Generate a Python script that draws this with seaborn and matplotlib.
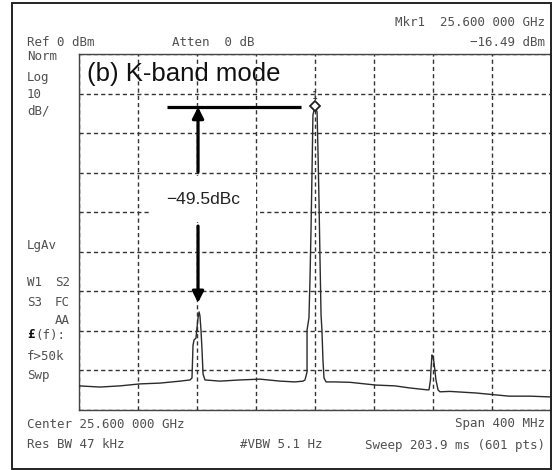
import matplotlib
matplotlib.use("Agg")
import matplotlib.pyplot as plt
import seaborn as sns
import pandas as pd
from matplotlib.patches import Rectangle

# ---- data (offset from 25.600 GHz centre in MHz, level in dBm) ----
freq_offset_mhz = [-160.0, -145.8, -132.2, -118.6, -105.1, -91.5, -84.7, -83.4, -82.7, -82.0,
                   -80.7, -79.3, -78.6, -78.0, -77.3, -76.6, -75.9, -74.6, -64.4, -50.8,
                   -37.3, -23.7, -13.6, -8.1, -6.8, -6.1, -5.4, -5.4, -4.1, -3.4,
                   -2.7, -2.0, -1.4, 0.0, 1.4, 2.0, 2.7, 3.4, 4.1, 4.7,
                   5.4, 6.1, 7.5, 13.6, 23.7, 41.4, 54.2, 63.7, 75.9, 77.3,
                   78.3, 78.6, 79.3, 80.0, 80.7, 82.0, 83.4, 84.7, 91.5, 109.2,
                   131.5, 145.8, 160.0]
level_dbm = [-83.9, -84.2, -83.9, -83.4, -83.2, -82.7, -82.4, -81.9, -73.6, -72.3,
             -71.8, -66.7, -65.2, -66.2, -69.8, -74.8, -80.9, -82.4, -82.7, -82.4,
             -82.2, -82.7, -82.9, -82.7, -82.4, -81.4, -80.4, -69.8, -66.7, -57.1,
             -44.5, -29.3, -15.4, -13.1, -14.7, -24.3, -36.9, -52.1, -66.0, -69.8,
             -77.4, -81.9, -82.9, -82.9, -83.0, -83.7, -83.9, -84.4, -84.9, -84.9,
             -82.4, -79.9, -76.1, -76.4, -78.1, -82.4, -84.9, -85.4, -85.3, -85.7,
             -86.5, -86.5, -86.7]

marker_freq = 0.0
marker_level = -13.1
ref_line_level = -13.4
spur_level = -62.9
arrow_freq = -79.3
label_text = "\u221249.5dBc"
title_text = "(b) K-band mode"

W, H = 552, 470
sns.set_theme(style="white")
plt.rcParams['font.family'] = ['Liberation Sans', 'DejaVu Sans']

fig = plt.figure(figsize=(W / 100, H / 100), dpi=100)
fig.patch.set_facecolor("white")

def fx(x):
    return x / W

def fy(y):
    return 1 - y / H

ax = fig.add_axes([fx(79), fy(410), fx(551) - fx(79), fy(54) - fy(410)])

df = pd.DataFrame({"f": freq_offset_mhz, "p": level_dbm})
sns.lineplot(data=df, x="f", y="p", ax=ax, color="#2b2b2b", lw=1.0,
             estimator=None, sort=False, zorder=3)

ax.set_xlim(-160, 160)
ax.set_ylim(-90, 0)
ax.set_xticks(range(-160, 161, 40))
ax.set_yticks(range(-90, 1, 10))
ax.set_xticklabels([])
ax.set_yticklabels([])
ax.tick_params(length=0)
ax.set_xlabel("")
ax.set_ylabel("")
ax.grid(True, color="#333333", lw=1.0, linestyle=(0, (3, 2.2)))
for s in ax.spines.values():
    s.set_color("#444444")
    s.set_linewidth(1.0)

# marker
ax.plot([marker_freq], [marker_level], marker="D", ms=5.5, mfc="white", mec="#222222",
        mew=1.3, zorder=5)
ax.text(marker_freq, marker_level + 2.6, "1", ha="center", va="center", fontsize=7,
        family="DejaVu Sans Mono", color="#333333", zorder=5)

# annotation lines / arrows
ax.plot([-100.3, -9.5], [ref_line_level, ref_line_level], color="black", lw=2.3,
        solid_capstyle="butt", zorder=6)
astyle = "-|>,head_length=0.55,head_width=0.28"
ax.annotate("", xy=(arrow_freq, ref_line_level), xytext=(arrow_freq, -29.8),
            arrowprops=dict(arrowstyle=astyle, color="black", lw=2.3,
                            shrinkA=0, shrinkB=0), zorder=6)
ax.annotate("", xy=(arrow_freq, spur_level), xytext=(arrow_freq, -43.5),
            arrowprops=dict(arrowstyle=astyle, color="black", lw=2.3,
                            shrinkA=0, shrinkB=0), zorder=6)
ax.text(-76.0, -36.7, label_text, ha="center", va="center", fontsize=12.5,
        color="#222222", zorder=4,
        bbox=dict(boxstyle="square,pad=0.9", fc="white", ec="none"))
fig.text(fx(87), fy(74), title_text, ha="left", va="center", fontsize=18.5,
         color="#111111", zorder=7)

# instrument labels
mono = dict(family="DejaVu Sans Mono", color="#505050", fontsize=9.0)
fig.text(fx(545), fy(22), "Mkr1  25.600 000 GHz", ha="right", va="center", **mono)
fig.text(fx(545), fy(43), "\u221216.49 dBm", ha="right", va="center", **mono)
fig.text(fx(27), fy(43), "Ref 0 dBm", ha="left", va="center", **mono)
fig.text(fx(172), fy(43), "Atten  0 dB", ha="left", va="center", **mono)
for txt, y in [("Norm", 57), ("Log", 77), ("10", 95), ("dB/", 111), ("LgAv", 245),
               ("W1", 283), ("S3", 302), ("f>50k", 357), ("Swp", 376)]:
    fig.text(fx(27), fy(y), txt, ha="left", va="center", **mono)
for txt, y in [("S2", 283), ("FC", 302), ("AA", 321)]:
    fig.text(fx(55), fy(y), txt, ha="left", va="center", **mono)
fig.text(fx(27), fy(335), "\u00a3", ha="left", va="center", fontweight="bold",
         family="DejaVu Sans Mono", color="#111111", fontsize=9.0)
fig.text(fx(35), fy(335), "(f):", ha="left", va="center", **mono)
fig.text(fx(27), fy(425), "Center 25.600 000 GHz", ha="left", va="center", **mono)
fig.text(fx(27), fy(445), "Res BW 47 kHz", ha="left", va="center", **mono)
fig.text(fx(240), fy(445), "#VBW 5.1 Hz", ha="left", va="center", **mono)
fig.text(fx(545), fy(424), "Span 400 MHz", ha="right", va="center", **mono)
fig.text(fx(545), fy(445), "Sweep 203.9 ms (601 pts)", ha="right", va="center", **mono)

# outer frame
fig.patches.append(Rectangle((fx(12), fy(469)), fx(551) - fx(12), fy(3) - fy(469),
                             transform=fig.transFigure, fill=False, ec="#222222",
                             lw=1.4, zorder=0))

fig.savefig("out.png", dpi=100, facecolor="white")
